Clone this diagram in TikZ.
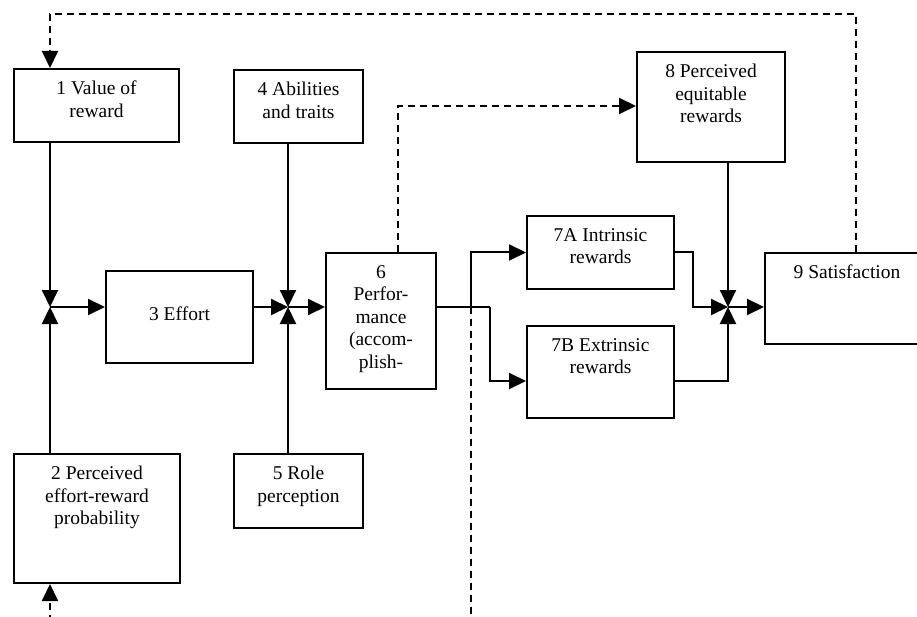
\documentclass[tikz,border=0pt]{standalone}
\usepackage{fontspec}
\setmainfont{Liberation Serif}
\usetikzlibrary{positioning,arrows.meta}
\tikzset{>={Triangle[length=17pt,width=16pt]}}
\tikzset{
  box/.style={draw,line width=2pt,rectangle,anchor=north west,inner sep=0pt},
  txt/.style={align=center,inner sep=0pt,font=\fontsize{19.5}{22.5}\selectfont},
  flow/.style={->,line width=2pt},
  feed/.style={->,line width=2pt,dash pattern=on 7pt off 5pt},
}

\begin{document}
\begin{tikzpicture}[x=1pt,y=-1pt]
  \useasboundingbox (0,0) rectangle (917,617);

  % boxes
  \node[box,minimum width=165pt,minimum height=73pt]  (b1)  at (13,68)   {};
  \node[box,minimum width=166pt,minimum height=129pt] (b2)  at (13,453)  {};
  \node[box,minimum width=147pt,minimum height=92pt]  (b3)  at (105,270) {};
  \node[box,minimum width=129pt,minimum height=73pt]  (b4)  at (233,69)  {};
  \node[box,minimum width=129pt,minimum height=74pt]  (b5)  at (233,453) {};
  \node[box,minimum width=110pt,minimum height=136pt] (b6)  at (325,252) {};
  \node[box,minimum width=147pt,minimum height=73pt]  (b7a) at (526,215) {};
  \node[box,minimum width=147pt,minimum height=92pt]  (b7b) at (526,325) {};
  \node[box,minimum width=148pt,minimum height=110pt] (b8)  at (636,51)  {};
  \node[box,minimum width=170pt,minimum height=91pt]  (b9)  at (764,252) {};

  % texts
  \node[txt,below=13pt of b1.north]  (t1)  {1 Value of\\reward};
  \node[txt,below=13pt of b2.north]  (t2)  {2 Perceived\\effort-reward\\probability};
  \node[txt,below=37pt of b3.north]  (t3)  {3 Effort};
  \node[txt,below=13pt of b4.north]  (t4)  {4 Abilities\\and traits};
  \node[txt,below=13pt of b5.north]  (t5)  {5 Role\\perception};
  \node[txt,below=13pt of b6.north]  (t6)  {6\\Perfor-\\mance\\(accom-\\plish-};
  \node[txt,below=13pt of b7a.north] (t7a) {7A Intrinsic\\rewards};
  \node[txt,below=13pt of b7b.north] (t7b) {7B Extrinsic\\rewards};
  \node[txt,below=13pt of b8.north]  (t8)  {8 Perceived\\equitable\\rewards};
  \node[txt,below=13pt of b9.north,xshift=-3pt] (t9) {9 Satisfaction};

  % junctions and corners
  \coordinate (j1) at (50,307);
  \coordinate (j2) at (288,307);
  \coordinate (j3) at (728,307);
  \coordinate (s1) at (471,307);
  \coordinate (s2) at (490,307);
  \coordinate (fbr) at (856,14);
  \coordinate (fbl) at (50,14);
  \coordinate (ex) at (398,106);
  \coordinate (lo1) at (50,622);
  \coordinate (lo2) at (471,622);

  \draw[flow] (b1.south -| j1) -- (j1);
  \draw[flow] (b2.north -| j1) -- (j1);
  \draw[flow] (j1) -- (b3.west |- j1);
  \draw[flow] (b3.east |- j2) -- (j2);
  \draw[flow] (b4.south -| j2) -- (j2);
  \draw[flow] (b5.north -| j2) -- (j2);
  \draw[flow] (j2) -- (b6.west |- j2);

  \draw[line width=2pt] (b6.east |- j2) -- (s2);
  \draw[flow] (s1) |- (b7a.west);
  \draw[flow] (s2) |- ([yshift=-9pt]b7b.west);

  \draw[flow] (b7a.east) -- ++(18,0) |- (j3);
  \draw[flow] ([yshift=-9pt]b7b.east) -| (j3);
  \draw[flow] (b8.south -| j3) -- (j3);
  \draw[flow] (j3) -- (b9.west |- j3);

  % feedback
  \draw[feed] (b9.north -| fbr) |- (fbl) -- (b1.north -| fbl);
  \draw[feed] (b6.north -| ex) |- (b8.west |- ex);
  \draw[feed,-] (s1) -- (lo2);
  \draw[feed] (lo1) -- (b2.south -| lo1);
\end{tikzpicture}
\end{document}
